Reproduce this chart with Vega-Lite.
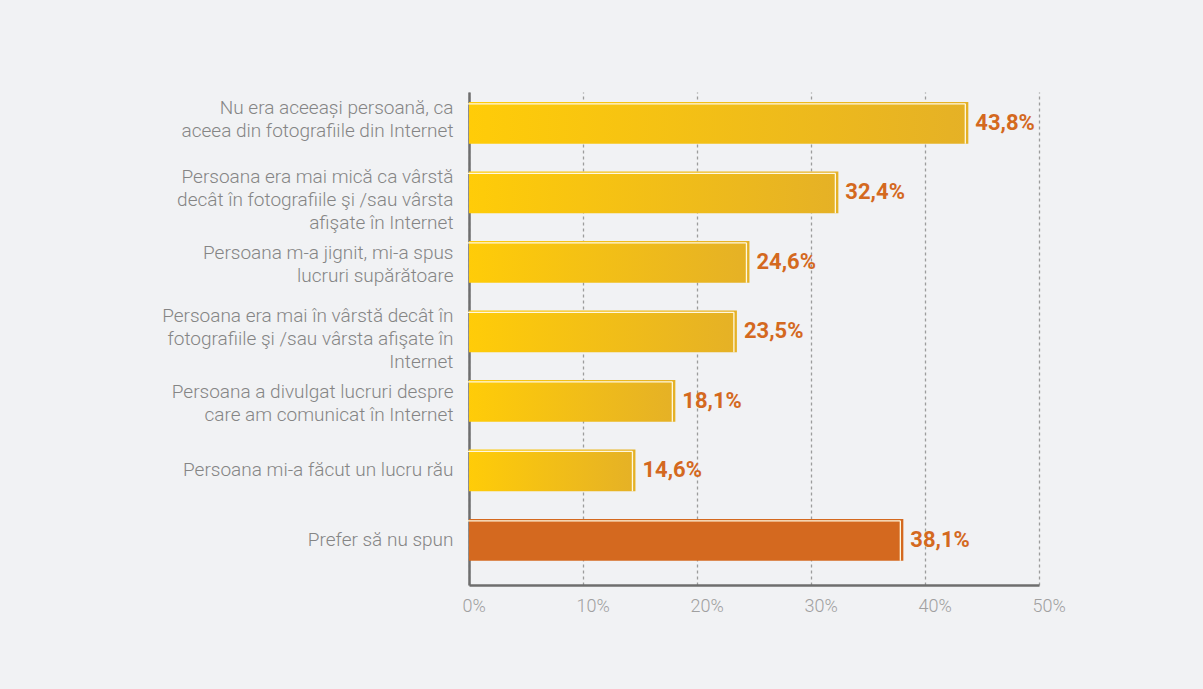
{
  "$schema": "https://vega.github.io/schema/vega-lite/v6.json",
  "autosize": {"type": "none"},
  "width": 570,
  "height": 493,
  "padding": {"left": 469, "top": 92, "right": 164, "bottom": 104},
  "background": "#f1f2f4",
  "data": {"values": [
    {"cat": "Nu era aceeași persoană, ca|aceea din fotografiile din Internet", "v": 43.8, "label": "43,8%", "type": "y"},
    {"cat": "Persoana era mai mică ca vârstă|decât în fotografiile şi /sau vârsta|afişate în Internet", "v": 32.4, "label": "32,4%", "type": "y"},
    {"cat": "Persoana m-a jignit, mi-a spus|lucruri supărătoare", "v": 24.6, "label": "24,6%", "type": "y"},
    {"cat": "Persoana era mai în vârstă decât în|fotografiile şi /sau vârsta afişate în|Internet", "v": 23.5, "label": "23,5%", "type": "y"},
    {"cat": "Persoana a divulgat lucruri despre|care am comunicat în Internet", "v": 18.1, "label": "18,1%", "type": "y"},
    {"cat": "Persoana mi-a făcut un lucru rău", "v": 14.6, "label": "14,6%", "type": "y"},
    {"cat": "Prefer să nu spun", "v": 38.1, "label": "38,1%", "type": "o"}
  ]},
  "encoding": {
    "y": {"field": "cat", "type": "nominal", "sort": null,
      "scale": {"paddingInner": 0.4, "paddingOuter": 0.247, "align": 0.29},
      "axis": {"title": null, "labelExpr": "split(datum.label, '|')", "labelFont": "Roboto Light, Roboto", "labelFontWeight": 300, "labelFontSize": 19, "labelColor": "#858585", "labelLineHeight": 23, "labelLimit": 450, "labelPadding": 16, "ticks": false, "domain": true, "domainColor": "#6e6e6e", "domainWidth": 2.5, "grid": false,
        "labelOffset": {"condition": [
          {"test": "indexof(datum.value, 'Nu era') == 0 || indexof(datum.value, 'mai mic') >= 0 || indexof(datum.value, 'mai în') >= 0", "value": -15},
          {"test": "indexof(datum.value, '|') >= 0", "value": -8.5}
        ], "value": 0}}},
    "x": {"field": "v", "type": "quantitative",
      "scale": {"domain": [0, 50], "nice": false},
      "axis": {"title": null, "values": [0, 10, 20, 30, 40, 50], "labelExpr": "datum.value + '%'", "labelFont": "Roboto Light, Roboto", "labelFontWeight": 300, "labelFontSize": 18, "labelColor": "#a0a0a0", "labelPadding": 12, "labelAlign": "left", "labelOffset": -7, "ticks": false, "domainColor": "#6e6e6e", "domainWidth": 2.5, "grid": true, "gridColor": "#9c9c9c", "gridDash": [3, 3], "gridWidth": 1.3, "labelFlush": false}}
  },
  "layer": [
    {"mark": {"type": "bar"},
     "encoding": {"fill": {
       "condition": {"test": "datum.type == 'o'", "value": "#d4691f"},
       "value": {"gradient": "linear", "x1": 0, "y1": 0, "x2": 1, "y2": 0, "stops": [{"offset": 0, "color": "#ffcc08"}, {"offset": 1, "color": "#e5b126"}]}}}},
    {"mark": {"type": "bar", "height": 1.3, "yOffset": -19, "xOffset": -3, "color": "#fff8e0"}},
    {"mark": {"type": "tick", "orient": "vertical", "size": 40, "thickness": 1.3, "xOffset": -3, "yOffset": 1, "color": "#fff8e0", "opacity": 1}},
    {"mark": {"type": "text", "align": "left", "baseline": "middle", "dx": 7, "font": "Roboto", "fontWeight": "bold", "fontSize": 22, "color": "#d4691f"},
     "encoding": {"text": {"field": "label"}}}
  ],
  "config": {"view": {"stroke": null}}
}
